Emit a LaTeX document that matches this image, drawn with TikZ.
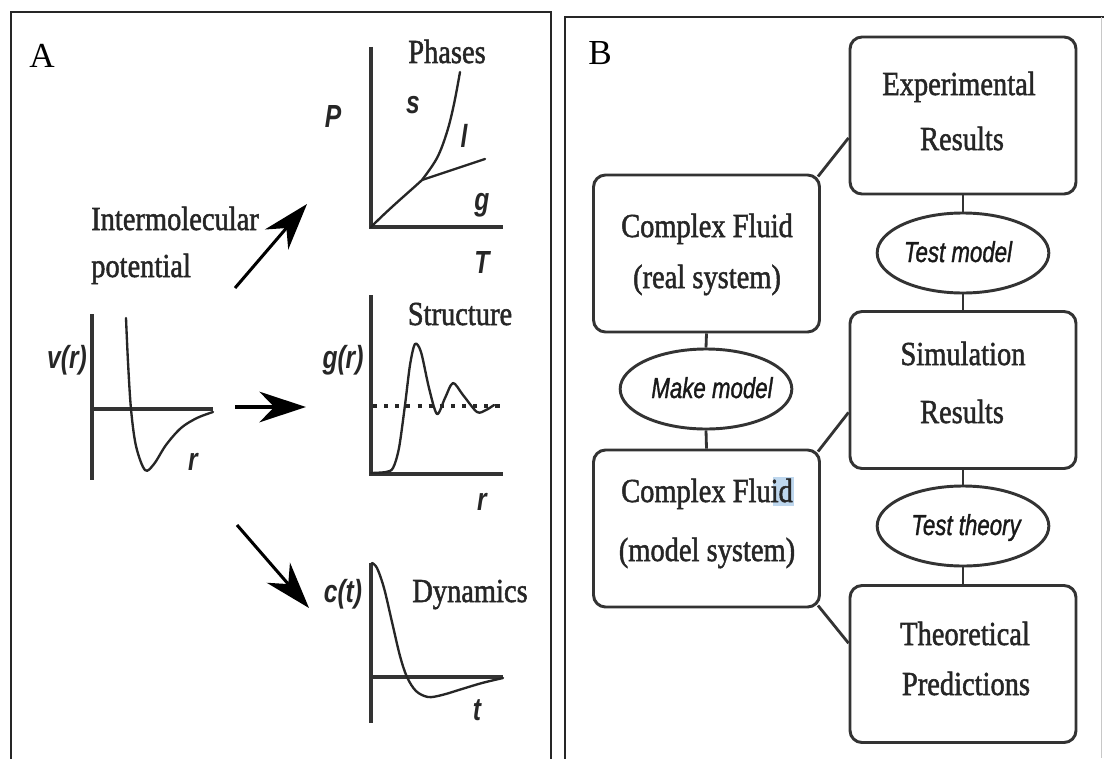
\documentclass[tikz,border=0pt]{standalone}
\usepackage{fontspec}
\setmainfont[FakeBold=1.6]{Liberation Serif}
\setsansfont{Liberation Sans}
\newfontfamily\ovalfont[FakeBold=1.4]{Liberation Sans}
\newfontfamily\panelfont{Liberation Serif}
\usetikzlibrary{arrows.meta,shapes.geometric,calc}
\definecolor{hl}{RGB}{190,215,238}
\definecolor{edgegray}{RGB}{200,200,200}
\tikzset{
  frame/.style={line width=2.5pt,black!85},
  axis/.style={line width=2.8pt,black!80},
  curve/.style={line width=2pt,black!85,line join=round,line cap=round},
  bigarrow/.style={line width=2.6pt,-{Stealth[length=1.4cm,width=0.92cm,inset=0.45cm]}},
  serif/.style={font=\fontsize{24.3}{28}\selectfont,yscale=1.18,anchor=base,inner sep=0pt,black!85},
  axlab/.style={font=\sffamily\bfseries\itshape\fontsize{21}{24}\selectfont,yscale=1.3,anchor=base,inner sep=0pt,black!85},
  elltext/.style={font=\ovalfont\itshape\fontsize{19}{22}\selectfont,yscale=1.3,anchor=base,inner sep=0pt,black!90},
  panellab/.style={font=\panelfont\fontsize{30}{34}\selectfont,anchor=base,inner sep=0pt},
  rbox/.style={draw,line width=2.5pt,black!80,rounded corners=0.36cm,minimum width=6.78cm,minimum height=4.71cm,inner sep=0pt},
  oval/.style={draw,ellipse,line width=2.5pt,black!80,minimum width=5.15cm,minimum height=2.4cm,inner sep=0pt},
  link/.style={line width=2.4pt,black!80}
}
\begin{document}
\begin{tikzpicture}[x=0.03cm,y=-0.03cm]
\useasboundingbox (0,0) rectangle (1104,758);
\fill[white] (0,0) rectangle (1104,758);
% panel frames
\draw[frame] (11,760) -- (11,12) -- (551,12) -- (551,760);
\draw[frame] (565,760) -- (565,17) -- (1104,17);
\draw[line width=0.8pt,edgegray] (1101,17) -- (1101,758);
\node[panellab] (labA) at (42,68) {A};
\node[panellab] (labB) at (600,64) {B};

% ---------- Panel A ----------
% phase diagram
\draw[axis] (371,47) -- (371,227) -- (503,227);
\draw[curve] (371,227) .. controls (392,206) and (408,193) .. (422,180);
\draw[curve] plot[smooth,tension=0.6] coordinates {(422,180) (437,158) (447,132) (454,104) (460,72)};
\draw[curve] (422,180) -- (485,159);
\node[serif] (phases) at (447,63) {Phases};
\node[axlab] (lP) at (333,127) {P};
\node[axlab] (ls) at (413,113) {s};
\node[axlab] (ll) at (464,147) {l};
\node[axlab] (lg) at (482,210) {g};
\node[axlab] (lT) at (482,273) {T};

% intermolecular potential
\node[serif,anchor=base west] (inter) at (91,230) {Intermolecular};
\node[serif,anchor=base west] (pot) at (91,277) {potential};
\draw[axis] (92,314) -- (92,480);
\draw[axis] (92,409) -- (213,409);
\draw[curve] plot[smooth,tension=0.55] coordinates {(126,318) (128,362) (131,409) (136,446) (145,470) (154,464) (166,445) (181,428) (197,418) (213,412)};
\node[axlab] (lv) at (67,368) {v(r)};
\node[axlab] (lr1) at (193,470) {r};

% arrows
\coordinate (a1s) at (235,288);
\coordinate (a1e) at (307,204);
\coordinate (a2s) at (235,407);
\coordinate (a2e) at (306,407);
\coordinate (a3s) at (237,525);
\coordinate (a3e) at (309,608);
\draw[bigarrow] (a1s) -- (a1e);
\draw[bigarrow] (a2s) -- (a2e);
\draw[bigarrow] (a3s) -- (a3e);

% structure
\draw[axis] (371,295) -- (371,474) -- (503,474);
\draw[line width=2.6pt,black!85,dash pattern=on 3.5pt off 6pt] (373,406) -- (503,406);
\draw[curve] plot[smooth,tension=0.5] coordinates {(371,473) (386,472) (393,468) (399,448) (405,405) (410,365) (415,344) (421,352) (429,388) (437,414) (445,398) (453,383) (463,395) (477,412) (486,410) (494,405)};
\node[serif] (struct) at (460,325) {Structure};
\node[axlab] (lgr) at (343,368) {g(r)};
\node[axlab] (lr2) at (482,510) {r};

% dynamics
\draw[axis] (371,563) -- (371,723);
\draw[axis] (371,677) -- (503,677);
\draw[curve] plot[smooth,tension=0.55] coordinates {(372,563) (377,568) (384,588) (392,622) (400,656) (407,677) (416,691) (428,697) (442,695) (462,689) (482,683) (503,678)};
\node[serif] (dyn) at (470,602) {Dynamics};
\node[axlab] (lct) at (343,602) {c(t)};
\node[axlab] (lt) at (477,720) {t};

% ---------- Panel B ----------
\node[rbox] (exp) at (963,115.5) {};
\node[rbox] (sim) at (963,390) {};
\node[rbox] (theo) at (963,664) {};
\node[rbox] (real) at (706.5,253.5) {};
\node[rbox] (model) at (706.5,528.5) {};
\node[oval] (tmod) at (963,253) {};
\node[oval] (mmod) at (706,389) {};
\node[oval] (tthe) at (963,526) {};

\fill[hl] (773,477) rectangle (794,506);

\node[serif] (t1) at (959,95) {Experimental};
\node[serif] (t2) at (962,150) {Results};
\node[serif] (t3) at (963,365) {Simulation};
\node[serif] (t4) at (962,423) {Results};
\node[serif] (t5) at (965,645) {Theoretical};
\node[serif] (t6) at (966,695) {Predictions};
\node[serif] (t7) at (707,237) {Complex Fluid};
\node[serif] (t8) at (707,288) {(real system)};
\node[serif] (t9) at (707,502) {Complex Fluid};
\node[serif] (t10) at (707,561) {(model system)};
\node[elltext] (e1) at (958,262) {Test model};
\node[elltext] (e2) at (712,398) {Make model};
\node[elltext] (e3) at (966,535) {Test theory};

% connectors
\draw[link] (exp.south) -- (tmod.north);
\draw[link] (tmod.south) -- (sim.north);
\draw[link] (sim.south) -- (tthe.north);
\draw[link] (tthe.south) -- (theo.north);
\draw[link] (real.south) -- (mmod.north);
\draw[link] (mmod.south) -- (model.north);
\draw[link] ([shift={(-3,3)}]real.north east) -- ($(exp.south west)!0.36!(exp.north west)$);
\draw[link] ([shift={(-3,3)}]model.north east) -- ($(sim.south west)!0.36!(sim.north west)$);
\draw[link] ([shift={(-3,-3)}]model.south east) -- ($(theo.south west)!0.63!(theo.north west)$);
\end{tikzpicture}
\end{document}
